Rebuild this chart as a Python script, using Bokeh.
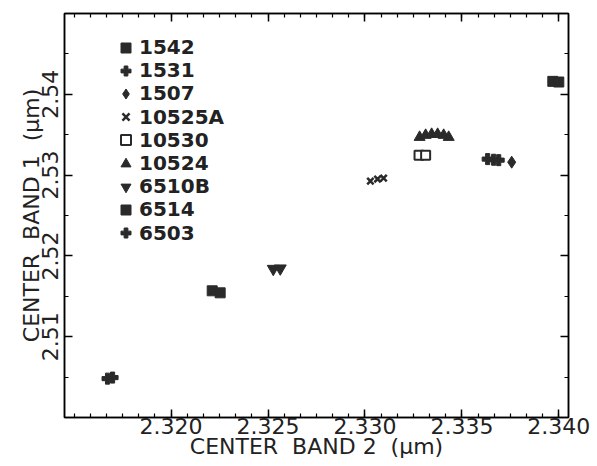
import numpy as np
from bokeh.plotting import figure
from bokeh.models import (Range1d, LinearAxis, FixedTicker, Legend, LegendItem,
                          NumeralTickFormatter)
from bokeh.embed import file_html
from bokeh.resources import INLINE

# ---- data ----
series_names = ["1542", "1531", "1507", "10525A", "10530", "10524", "6510B", "6514", "6503"]

band2_1542 = [2.33969, 2.34000]
band1_1542 = [2.54160, 2.54152]

band2_1531 = [2.33633, 2.33664, 2.33690]
band1_1531 = [2.53198, 2.53190, 2.53185]

band2_1507 = [2.33757]
band1_1507 = [2.53160]

band2_10525A = [2.33028, 2.33065, 2.33096]
band1_10525A = [2.52926, 2.52951, 2.52963]

band2_10530 = [2.33279, 2.33313]
band1_10530 = [2.53247, 2.53247]

band2_10524 = [2.33282, 2.33313, 2.33344, 2.33375, 2.33406, 2.33432]
band1_10524 = [2.53469, 2.53494, 2.53506, 2.53506, 2.53494, 2.53469]

band2_6510B = [2.32527, 2.32563]
band1_6510B = [2.51840, 2.51845]

band2_6514 = [2.32212, 2.32253]
band1_6514 = [2.51568, 2.51543]

band2_6503 = [2.31672, 2.31698]
band1_6503 = [2.50481, 2.50494]

x_ticks = [2.320, 2.325, 2.330, 2.335, 2.340]
x_tick_labels = ["2.320", "2.325", "2.330", "2.335", "2.340"]
y_ticks = [2.51, 2.52, 2.53, 2.54]
y_tick_labels = ["2.51", "2.52", "2.53", "2.54"]

x_label = "CENTER\u00a0 BAND 2\u00a0 (\u00b5m)"
y_label = "CENTER\u00a0 BAND 1\u00a0 (\u00b5m)"

series_data = {
    "1542": (band2_1542, band1_1542),
    "1531": (band2_1531, band1_1531),
    "1507": (band2_1507, band1_1507),
    "10525A": (band2_10525A, band1_10525A),
    "10530": (band2_10530, band1_10530),
    "10524": (band2_10524, band1_10524),
    "6510B": (band2_6510B, band1_6510B),
    "6514": (band2_6514, band1_6514),
    "6503": (band2_6503, band1_6503),
}

# ---- styles ----
INK = "#2a2a2a"
TXT = "#222222"
styles = {
    "1542": dict(marker="square", size=10),
    "1531": dict(marker="plus", size=11),
    "1507": dict(marker="diamond", size=12),
    "10525A": dict(marker="x", size=9, line_width=2.5),
    "10530": dict(marker="square", size=9, line_width=2, fill_color="white"),
    "10524": dict(marker="triangle", size=11),
    "6510B": dict(marker="inverted_triangle", size=12),
    "6514": dict(marker="square", size=10),
    "6503": dict(marker="plus", size=11),
}

FONT = "DejaVu Sans"
FRAME_TOP, FRAME_BOTTOM = 13, 417

p = figure(width=597, height=466,
           x_range=Range1d(2.3145, 2.3405), y_range=Range1d(2.500, 2.550),
           output_backend="svg", toolbar_location=None,
           min_border_left=64, min_border_right=29, min_border_top=FRAME_TOP,
           min_border_bottom=466 - FRAME_BOTTOM,
           x_axis_label=x_label, y_axis_label=y_label)
p.grid.visible = False
p.outline_line_color = "black"
p.outline_line_width = 1.5
p.background_fill_color = "white"
p.border_fill_color = "white"

bottom_axis = p.below[0]
left_axis = p.left[0]

x_minor = list(np.arange(2.315, 2.3406, 0.005 / 6))
y_minor = list(np.arange(2.500, 2.5501, 0.005))

xticker = FixedTicker(ticks=x_ticks, minor_ticks=x_minor)
yticker = FixedTicker(ticks=y_ticks, minor_ticks=y_minor)

bottom_axis.ticker = xticker
left_axis.ticker = yticker
bottom_axis.formatter = NumeralTickFormatter(format="0.000")
left_axis.formatter = NumeralTickFormatter(format="0.00")
bottom_axis.major_label_overrides = {t: s for t, s in zip(x_ticks, x_tick_labels)}
left_axis.major_label_overrides = {t: s for t, s in zip(y_ticks, y_tick_labels)}

top_axis = LinearAxis(ticker=xticker, major_label_text_font_size="0px",
                      major_label_standoff=0, axis_label=None)
right_axis = LinearAxis(ticker=yticker, major_label_text_font_size="0px",
                        major_label_standoff=0, axis_label=None)
p.add_layout(top_axis, "above")
p.add_layout(right_axis, "right")

for ax in [bottom_axis, left_axis, top_axis, right_axis]:
    ax.major_tick_in = 8
    ax.major_tick_out = 0
    ax.minor_tick_in = 4
    ax.minor_tick_out = 0
    ax.axis_line_color = "black"
    ax.axis_line_width = 1.5
    ax.major_tick_line_color = "black"
    ax.major_tick_line_width = 1.5
    ax.minor_tick_line_color = "black"
    ax.minor_tick_line_width = 1.2

for ax in [bottom_axis, left_axis]:
    ax.major_label_text_font = FONT
    ax.major_label_text_font_size = "22px"
    ax.major_label_text_color = TXT
    ax.axis_label_text_font = FONT
    ax.axis_label_text_font_size = "22px"
    ax.axis_label_text_font_style = "normal"
    ax.axis_label_text_color = TXT

bottom_axis.major_label_standoff = 0
bottom_axis.axis_label_standoff = -3
left_axis.major_label_orientation = "vertical"
left_axis.major_label_standoff = 6
left_axis.axis_label_standoff = -4

renderers = {}
for name in series_names:
    xs, ys = series_data[name]
    st = dict(styles[name])
    marker = st.pop("marker")
    fill = st.pop("fill_color", INK)
    lw = st.pop("line_width", 1)
    r = p.scatter(xs, ys, marker=marker, fill_color=fill, line_color=INK,
                  line_width=lw, **st)
    renderers[name] = r

# one legend block per entry so the row pitch matches the reference
ROW0, PITCH, ITEM_H = 47, 23.2, 25
for i, name in enumerate(series_names):
    center = ROW0 + PITCH * i
    vy = FRAME_BOTTOM - (center + ITEM_H / 2)
    lg = Legend(items=[LegendItem(label=name, renderers=[renderers[name]])],
                location=(49, vy), orientation="vertical",
                padding=0, margin=0, spacing=0,
                glyph_width=25, glyph_height=25, label_height=23, label_standoff=1,
                label_text_font=FONT, label_text_font_style="bold",
                label_text_font_size="20px", label_text_color=TXT,
                background_fill_alpha=0, border_line_alpha=0)
    p.add_layout(lg)

open("out.html", "w").write(file_html(p, INLINE))
